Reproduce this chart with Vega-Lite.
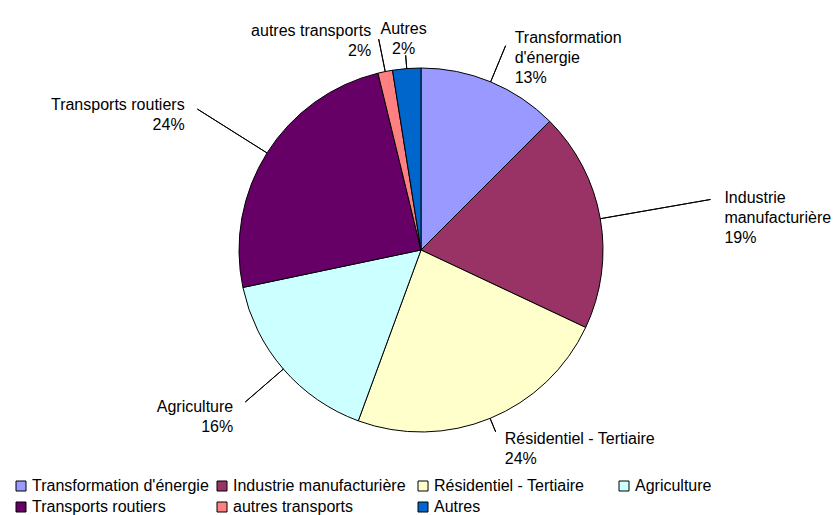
{
  "$schema": "https://vega.github.io/schema/vega-lite/v6.json",
  "width": 834,
  "height": 500,
  "autosize": {"type": "none"},
  "padding": {"left": 4, "top": 0, "right": 0, "bottom": 15},
  "background": "white",
  "config": {"view": {"stroke": null}, "font": "Liberation Sans"},
  "data": {
    "values": [
      {"order": 1, "name": "Transformation d'énergie", "value": 12.5, "label": "Transformation\nd'énergie\n13%"},
      {"order": 2, "name": "Industrie manufacturière", "value": 19.5, "label": "Industrie\nmanufacturière\n19%"},
      {"order": 3, "name": "Résidentiel - Tertiaire", "value": 23.6, "label": "Résidentiel - Tertiaire\n24%"},
      {"order": 4, "name": "Agriculture", "value": 16.1, "label": "Agriculture\n16%"},
      {"order": 5, "name": "Transports routiers", "value": 24.5, "label": "Transports routiers\n24%"},
      {"order": 6, "name": "autres transports", "value": 1.3, "label": "autres transports\n2%"},
      {"order": 7, "name": "Autres", "value": 2.5, "label": "Autres\n2%"}
    ]
  },
  "transform": [
    {"stack": "value", "groupby": [], "sort": [{"field": "order", "order": "ascending"}], "as": ["v0", "v1"]},
    {"calculate": "(datum.v0 + datum.v1) / 2", "as": "mid"}
  ],
  "layer": [
    {
      "mark": {"type": "arc", "outerRadius": 182, "stroke": "black", "strokeWidth": 1},
      "encoding": {
        "theta": {"field": "v0", "type": "quantitative", "scale": {"domain": [0, 100]}},
        "theta2": {"field": "v1"},
        "color": {
          "field": "name",
          "type": "nominal",
          "scale": {
            "domain": ["Transformation d'énergie", "Industrie manufacturière", "Résidentiel - Tertiaire", "Agriculture", "Transports routiers", "autres transports", "Autres"],
            "range": ["#9999FF", "#993366", "#FFFFCC", "#CCFFFF", "#660066", "#FF8080", "#0066CC"]
          },
          "legend": {
            "title": null,
            "orient": "none",
            "legendX": 9,
            "legendY": 478,
            "direction": "horizontal",
            "columns": 4,
            "gridAlign": "all",
            "columnPadding": 5,
            "rowPadding": 5,
            "padding": 0,
            "symbolType": "square",
            "symbolSize": 100,
            "symbolStrokeColor": "black",
            "symbolStrokeWidth": 1,
            "symbolOpacity": 1,
            "labelFont": "Liberation Sans",
            "labelFontSize": 16,
            "labelColor": "black",
            "labelOffset": 3,
            "labelLimit": 400
          }
        }
      }
    },
    {
      "mark": {
        "type": "arc",
        "innerRadius": 182,
        "outerRadius": {"expr": "300*(cos(datum.mid*PI/50) > 0 ? 215 : 190)/sqrt(pow((cos(datum.mid*PI/50) > 0 ? 215 : 190)*sin(datum.mid*PI/50),2)+pow(300*cos(datum.mid*PI/50),2)) - (abs(sin(datum.mid*PI/50)) < 0.1 ? 20 : 2)"},
        "stroke": "black",
        "strokeWidth": 1,
        "fill": null
      },
      "encoding": {
        "theta": {"field": "mid", "type": "quantitative", "scale": {"domain": [0, 100]}},
        "theta2": {"field": "mid"}
      }
    },
    {
      "mark": {
        "type": "text",
        "radius": {"expr": "300*(cos(datum.mid*PI/50) > 0 ? 215 : 190)/sqrt(pow((cos(datum.mid*PI/50) > 0 ? 215 : 190)*sin(datum.mid*PI/50),2)+pow(300*cos(datum.mid*PI/50),2)) + 6"},
        "align": {"expr": "sin(datum.mid*PI/50) > 0.1 ? 'left' : (sin(datum.mid*PI/50) < -0.1 ? 'right' : 'center')"},
        "dx": {"expr": "sin(datum.mid*PI/50) > 0.1 ? 6 : (sin(datum.mid*PI/50) < -0.1 ? -6 : 0)"},
        "baseline": "middle",
        "lineBreak": "\n",
        "lineHeight": 20,
        "fontSize": 16,
        "font": "Liberation Sans",
        "color": "black"
      },
      "encoding": {
        "theta": {"field": "mid", "type": "quantitative", "scale": {"domain": [0, 100]}},
        "text": {"field": "label"}
      }
    }
  ]
}
